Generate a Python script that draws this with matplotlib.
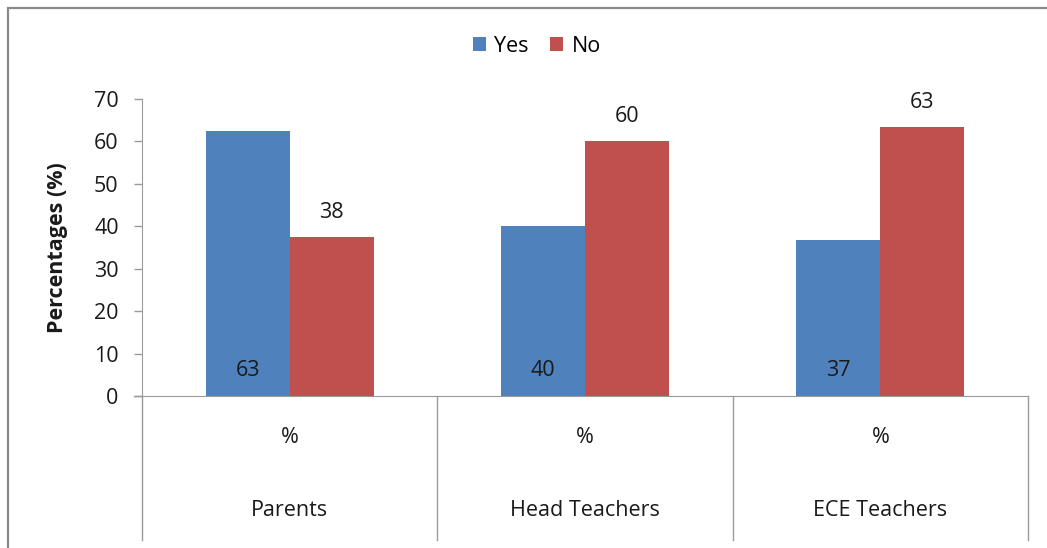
import numpy as np
import matplotlib
matplotlib.use('Agg')
import matplotlib.pyplot as plt
from matplotlib.patches import Rectangle

plt.rcParams['font.family'] = ['Open Sans', 'DejaVu Sans']

groups = ['Parents', 'Head Teachers', 'ECE Teachers']
sub_label = '%'
yes_vals = [62.5, 40.0, 36.7]
no_vals = [37.5, 60.0, 63.3]
yticks = [0, 10, 20, 30, 40, 50, 60, 70]

BLUE = '#4F81BD'
RED = '#C0504D'
AXIS_GREY = '#9a9a9a'
TXT = '#1a1a1a'
FS = 15.5

fig = plt.figure(figsize=(10.47, 5.48), dpi=100)
fig.patch.set_facecolor('white')

# chart frame (runs off the right and bottom edges)
fig.patches.append(Rectangle((8 / 1047, -0.05), 1.1, 1 - 8 / 548 + 0.05,
                             transform=fig.transFigure, fill=False,
                             edgecolor='#8a8a8a', linewidth=1.6))

ax = fig.add_axes([142 / 1047, 152 / 548, 886 / 1047, 297 / 548])

x = np.arange(len(groups))
w = 0.284
b_yes = ax.bar(x - w / 2, yes_vals, w, color=BLUE, label='Yes')
b_no = ax.bar(x + w / 2, no_vals, w, color=RED, label='No')

def fmt(v):
    return str(int(v + 0.5))

# Yes labels sit inside the bar base, No labels above the bar
for rect, v in zip(b_yes, yes_vals):
    ax.text(rect.get_x() + rect.get_width() / 2, 6.1, fmt(v),
            ha='center', va='center', fontsize=FS, color=TXT)
for rect, v in zip(b_no, no_vals):
    ax.text(rect.get_x() + rect.get_width() / 2, v + 5.8, fmt(v),
            ha='center', va='center', fontsize=FS, color=TXT)

ax.set_xlim(-0.5, len(groups) - 0.5)
ax.set_ylim(0, 70)
ax.set_yticks(yticks)
ax.tick_params(axis='y', direction='out', length=5.8, width=1,
               color=AXIS_GREY, labelsize=FS, labelcolor=TXT, pad=11)
ax.set_xticks([])
for s in ['top', 'right']:
    ax.spines[s].set_visible(False)
ax.spines['left'].set_color(AXIS_GREY)
ax.spines['bottom'].set_color(AXIS_GREY)
ax.spines['bottom'].set_bounds(-0.5, len(groups) - 0.5)

# horizontal axis stub to the left of the y axis
ax.plot([-0.009, 0], [0, 0], transform=ax.transAxes,
        color=AXIS_GREY, lw=1, clip_on=False)

# two-level category axis: separators, '%' row and group names
for xs in np.arange(len(groups) + 1) - 0.5:
    ax.plot([xs, xs], [0, -0.485], transform=ax.get_xaxis_transform(),
            color=AXIS_GREY, lw=1, clip_on=False)
for xi, g in zip(x, groups):
    ax.text(xi, -0.141, sub_label, transform=ax.get_xaxis_transform(),
            ha='center', va='center', fontsize=FS, color=TXT)
    ax.text(xi, -0.384, g, transform=ax.get_xaxis_transform(),
            ha='center', va='center', fontsize=FS, color=TXT)

ax.set_ylabel('Percentages (%)', fontsize=FS, fontweight='bold', color=TXT)
ax.yaxis.set_label_coords(-0.0835, 0.5)

leg = fig.legend(handles=[b_yes, b_no], labels=['Yes', 'No'],
                 loc='center', bbox_to_anchor=(537 / 1047, 1 - 46 / 548),
                 ncol=2, frameon=False, fontsize=FS, handlelength=0.6,
                 handleheight=0.6, handletextpad=0.4, columnspacing=1.0)

fig.savefig('out.png', dpi=100, facecolor='white')
